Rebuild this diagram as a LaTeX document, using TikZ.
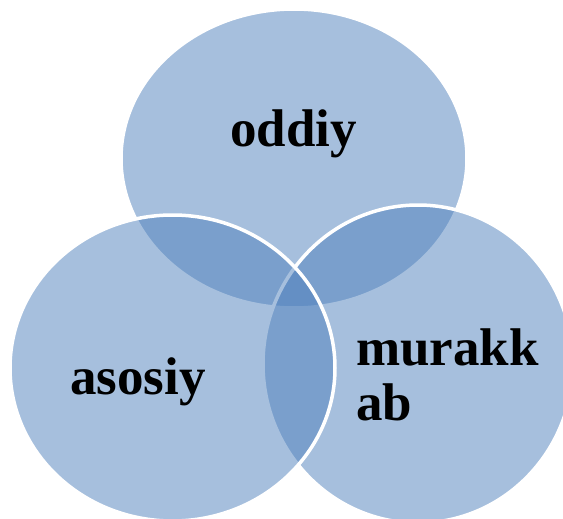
\documentclass[tikz,border=0pt]{standalone}
\usepackage{fontspec}
\setmainfont{Liberation Serif}
\definecolor{vennblue}{HTML}{4F81BD}
\tikzset{
  vennset/.style={fill=vennblue, fill opacity=0.5, draw=white, draw opacity=1, line width=3.5pt},
  vennlabel/.style={inner sep=0pt, text=black, font=\fontsize{53}{55}\selectfont\bfseries}
}
\begin{document}
\begin{tikzpicture}[x=1pt,y=-1pt]
\useasboundingbox (0,0) rectangle (563,519);
\clip (0,0) rectangle (563,519);
\fill[white] (0,0) rectangle (563,519);
\draw[vennset] (294,158.5) ellipse [x radius=173pt, y radius=149.5pt];
\draw[vennset] (418,364) ellipse [x radius=155pt, y radius=159pt];
\draw[vennset] (172.5,368) ellipse [x radius=162.5pt, y radius=153pt];
\node[vennlabel, anchor=base] (oddiy) at (293.7,146.7) {oddiy};
\node[vennlabel, anchor=base] (asosiy) at (138,394) {asosiy};
\node[vennlabel, anchor=base west] (murakkab) at (356,365.7) {\vtop{\baselineskip=55pt\hbox{murakk}\hbox{ab}}};
\end{tikzpicture}
\end{document}
